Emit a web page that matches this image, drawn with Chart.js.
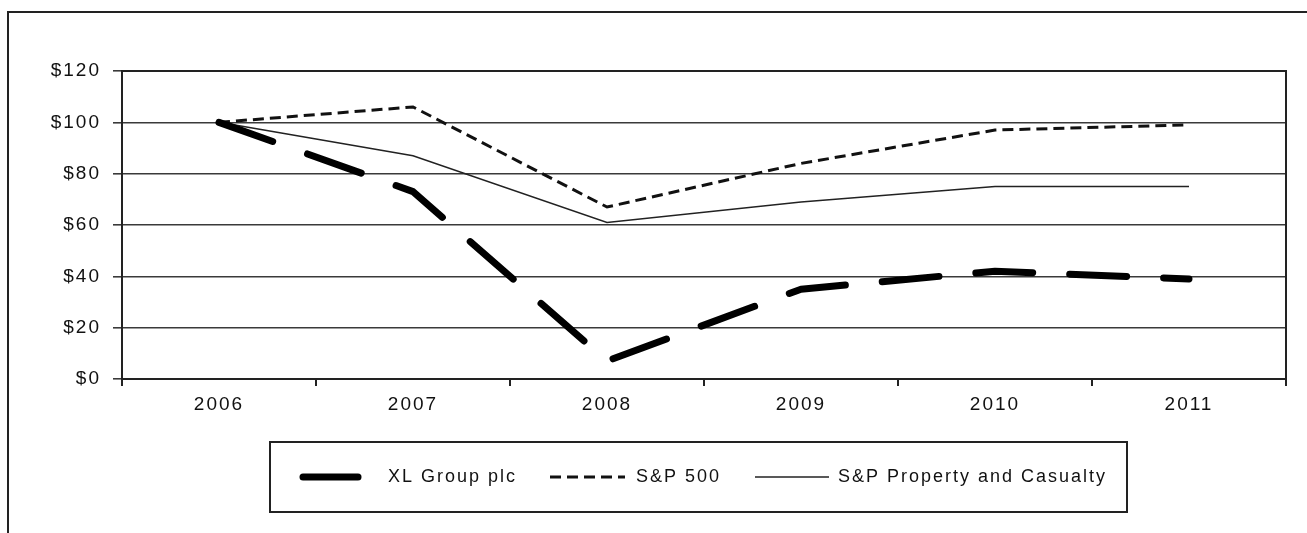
<!DOCTYPE html>
<html>
<head>
<meta charset="utf-8">
<script src="https://cdn.jsdelivr.net/npm/chart.js@4/dist/chart.umd.min.js"></script>
<style>
  html, body { margin: 0; padding: 0; background: #fff; }
  #wrap { position: relative; width: 1307px; height: 533px; overflow: hidden; }
  #frame {
    position: absolute; left: 7px; top: 11px; width: 1400px; height: 600px;
    border-left: 2px solid #222; border-top: 2px solid #222;
  }
  #perfChart { position: absolute; left: 0; top: 0; }
</style>
</head>
<body>
<div id="wrap">
  <div id="frame"></div>
  <canvas id="perfChart" width="1307" height="533"></canvas>
</div>
<script>
const years = ["2006", "2007", "2008", "2009", "2010", "2011"];
const xlGroup = [100, 73, 7, 35, 42, 39];
const sp500 = [100, 106, 67, 84, 97, 99];
const spPropCas = [100, 87, 61, 69, 75, 75];
const yTicks = [0, 20, 40, 60, 80, 100, 120];

const FONT = "'Liberation Sans', Arial, sans-serif";
const SPACING = "2px";

// Excel-looking stretched text: add a bit of letter spacing to the canvas
const spacingPlugin = {
  id: "spacing",
  beforeUpdate(chart) { chart.ctx.letterSpacing = SPACING; },
  beforeLayout(chart) { chart.ctx.letterSpacing = SPACING; },
  beforeDraw(chart) { chart.ctx.letterSpacing = SPACING; }
};

// frame round the plot area (top and right side)
const plotFrame = {
  id: "plotFrame",
  afterDatasetsDraw(chart) {
    const { ctx, chartArea: a } = chart;
    ctx.save();
    ctx.strokeStyle = "#222";
    ctx.lineWidth = 2;
    ctx.beginPath();
    ctx.moveTo(a.left, a.top);
    ctx.lineTo(a.right, a.top);
    ctx.lineTo(a.right, a.bottom);
    ctx.stroke();
    ctx.restore();
  }
};

// boxed legend under the axis, like the original
const boxLegend = {
  id: "boxLegend",
  afterDraw(chart) {
    const { ctx, chartArea: a } = chart;
    const left = a.left + 148, top = a.bottom + 63, w = 857, h = 70;
    const midY = top + h / 2;
    const items = [
      { x0: 33, len: 55, tx: 118 },
      { x0: 280, len: 75, tx: 366 },
      { x0: 485, len: 74, tx: 568 }
    ];
    ctx.save();
    ctx.letterSpacing = SPACING;
    ctx.strokeStyle = "#222";
    ctx.lineWidth = 2;
    ctx.strokeRect(left, top, w, h);
    chart.data.datasets.forEach((ds, i) => {
      const it = items[i];
      ctx.beginPath();
      ctx.strokeStyle = ds.borderColor;
      ctx.lineWidth = ds.borderWidth;
      ctx.lineCap = ds.borderCapStyle || "butt";
      ctx.setLineDash(i === 1 ? ds.borderDash : []);
      ctx.moveTo(left + it.x0, midY);
      ctx.lineTo(left + it.x0 + it.len, midY);
      ctx.stroke();
      ctx.setLineDash([]);
      ctx.fillStyle = "#111";
      ctx.font = "18px " + FONT;
      ctx.textBaseline = "middle";
      ctx.fillText(ds.label, left + it.tx, midY);
    });
    ctx.restore();
  }
};

new Chart(document.getElementById("perfChart"), {
  type: "line",
  data: {
    labels: years,
    datasets: [
      {
        label: "XL Group plc",
        data: xlGroup,
        borderColor: "#000",
        borderWidth: 7,
        borderDash: [57, 37],
        borderCapStyle: "round",
        borderJoinStyle: "round",
        pointRadius: 0,
        tension: 0
      },
      {
        label: "S&P 500",
        data: sp500,
        borderColor: "#111",
        borderWidth: 3,
        borderDash: [11, 6],
        pointRadius: 0,
        tension: 0
      },
      {
        label: "S&P Property and Casualty",
        data: spPropCas,
        borderColor: "#222",
        borderWidth: 1.5,
        pointRadius: 0,
        tension: 0
      }
    ]
  },
  options: {
    responsive: false,
    animation: false,
    devicePixelRatio: 1,
    layout: { padding: { left: 0, top: 71, right: 21, bottom: 0 } },
    plugins: {
      legend: { display: false },
      tooltip: { enabled: false }
    },
    scales: {
      x: {
        offset: true,
        grid: {
          offset: true,
          drawOnChartArea: false,
          tickLength: 7,
          color: "#222",
          lineWidth: 2
        },
        border: { display: true, color: "#222", width: 2 },
        ticks: {
          color: "#111",
          font: { family: FONT, size: 19 },
          padding: 7,
          maxRotation: 0
        },
        afterFit: (scale) => { scale.height = 154; }
      },
      y: {
        min: 0,
        max: 120,
        afterBuildTicks: (scale) => {
          scale.ticks = yTicks.map((v) => ({ value: v }));
        },
        grid: {
          color: "#3a3a3a",
          lineWidth: 1.6,
          tickLength: 9
        },
        border: { display: true, color: "#222", width: 2 },
        ticks: {
          color: "#111",
          font: { family: FONT, size: 19 },
          padding: 12,
          callback: (value) => "$" + value
        },
        afterFit: (scale) => { scale.width = 122; }
      }
    }
  },
  plugins: [spacingPlugin, plotFrame, boxLegend]
});
</script>
</body>
</html>
